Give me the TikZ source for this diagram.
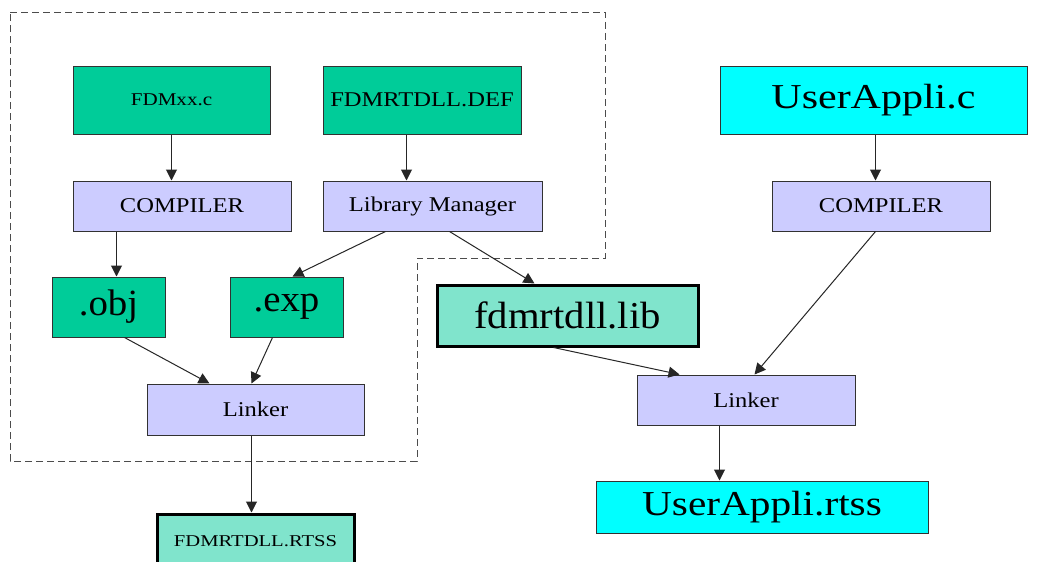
\documentclass[tikz,border=0pt]{standalone}
\usepackage{fontspec}
\setmainfont{Liberation Serif}
\usepackage{graphicx}
\usetikzlibrary{arrows.meta,calc}
\definecolor{srcgreen}{RGB}{0,204,153}
\definecolor{lav}{RGB}{204,204,255}
\definecolor{cyanbox}{RGB}{0,255,255}
\definecolor{hatchteal}{RGB}{128,228,204}
\definecolor{edgegray}{RGB}{50,50,50}
\newcommand{\hs}[1]{\scalebox{1.17}[1]{#1}}
\begin{document}
\begin{tikzpicture}[x=1pt,y=-1pt,
  boxbase/.style={draw=edgegray,line width=1pt,inner sep=0pt,anchor=center,text=black},
  greenbox/.style={boxbase,fill=srcgreen},
  lavbox/.style={boxbase,fill=lav},
  cybox/.style={boxbase,fill=cyanbox},
  hatchbox/.style={draw=black,line width=3pt,fill=hatchteal,inner sep=0pt,anchor=center,text=black},
  conn/.style={draw=black!85,line width=1pt,-{Triangle[length=11pt,width=11pt]}},
  grp/.style={draw=black!70,line width=1pt,dash pattern=on 7pt off 4pt}
]
\useasboundingbox (0,0) rectangle (1045,562);
\clip (0,0) rectangle (1045,562);
\fill[white] (0,0) rectangle (1045,562);

% dashed group outline
\draw[grp] (10,12) -- (605,12) -- (605,258) -- (417,258) -- (417,461) -- (10,461) -- cycle;

% boxes
\node[greenbox,minimum width=197pt,minimum height=68pt,font=\fontsize{18}{20}\selectfont] (src) at (171.5,100) {\hs{FDMxx.c}};
\node[greenbox,minimum width=198pt,minimum height=68pt,font=\fontsize{21}{24}\selectfont] (def) at (422,100) {\hs{FDMRTDLL.DEF}};
\node[cybox,minimum width=307pt,minimum height=68pt,font=\fontsize{35}{38}\selectfont] (uac) at (873.5,100) {\raisebox{-2pt}{\scalebox{1.2}[1]{UserAppli.c}}};

\node[lavbox,minimum width=218pt,minimum height=50pt,font=\fontsize{21}{24}\selectfont] (compa) at (182,206) {\hs{COMPILER}};
\node[lavbox,minimum width=219pt,minimum height=50pt,font=\fontsize{21}{24}\selectfont] (libm) at (432.5,206) {\hs{Library Manager}};
\node[lavbox,minimum width=218pt,minimum height=50pt,font=\fontsize{21}{24}\selectfont] (compb) at (881,206) {\hs{COMPILER}};

\node[greenbox,minimum width=113pt,minimum height=60pt,font=\fontsize{37}{40}\selectfont] (obj) at (108.5,307) {\raisebox{-2pt}{\scalebox{1.05}[1]{.obj}}};
\node[greenbox,minimum width=113pt,minimum height=60pt,font=\fontsize{37}{40}\selectfont] (exp) at (286.5,307) {\raisebox{-2pt}{\scalebox{1.05}[1]{.exp}}};
\node[hatchbox,minimum width=261pt,minimum height=61pt,font=\fontsize{38}{42}\selectfont] (lib) at (567.5,315.5) {\raisebox{-2pt}{\scalebox{1.07}[1]{fdmrtdll.lib}}};

\node[lavbox,minimum width=217pt,minimum height=51pt,font=\fontsize{21}{24}\selectfont] (linka) at (255.5,409.5) {\hs{Linker}};
\node[lavbox,minimum width=218pt,minimum height=50pt,font=\fontsize{21}{24}\selectfont] (linkb) at (746,400) {\hs{Linker}};

\node[hatchbox,minimum width=197pt,minimum height=60pt,font=\fontsize{16.5}{19}\selectfont] (rtss) at (255.5,544) {\raisebox{5pt}{\scalebox{1.25}[1]{FDMRTDLL.RTSS}}};
\node[cybox,minimum width=332pt,minimum height=52pt,font=\fontsize{35}{38}\selectfont] (uartss) at (762,507) {\scalebox{1.18}[1]{UserAppli.rtss}};

% anchor points of the vertical connectors
\coordinate (defout) at ($(def.south west)+(84,0)$);
\coordinate (uacout) at ($(uac.south west)+(156,0)$);
\coordinate (compaout) at ($(compa.south west)+(44,0)$);
\coordinate (linkaout) at ($(linka.south west)+(105,0)$);
\coordinate (linkbout) at ($(linkb.south west)+(83,0)$);

% connectors
\draw[conn] (src.south) -- (src.south |- compa.north);
\draw[conn] (defout) -- (defout |- libm.north);
\draw[conn] (uacout) -- (uacout |- compb.north);
\draw[conn] (compaout) -- (compaout |- obj.north);
\draw[conn] ($(libm.south west)+(63,0)$) -- ($(exp.north west)+(63,0)$);
\draw[conn] ($(libm.south west)+(127,0)$) -- ($(lib.north west)+(99,0)$);
\draw[conn] ($(obj.south west)+(73,0)$) -- ($(linka.north west)+(63,0)$);
\draw[conn] ($(exp.south west)+(43,0)$) -- ($(linka.north west)+(105,0)$);
\draw[conn] ($(lib.south west)+(118,0)$) -- ($(linkb.north west)+(43,0)$);
\draw[conn] ($(compb.south west)+(104,0)$) -- ($(linkb.north west)+(118,0)$);
\draw[conn] (linkaout) -- (linkaout |- rtss.north);
\draw[conn] (linkbout) -- (linkbout |- uartss.north);
\end{tikzpicture}
\end{document}
